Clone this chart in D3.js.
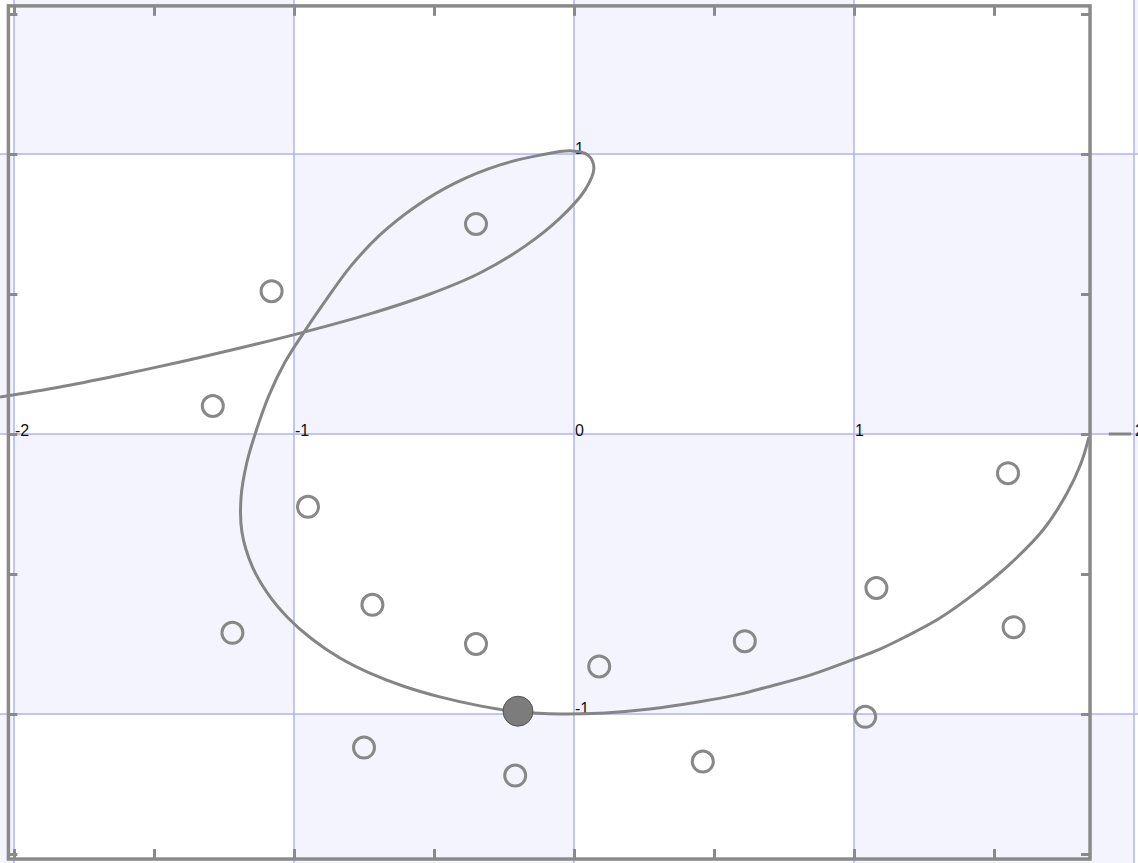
<!DOCTYPE html>
<html>
<head>
<meta charset="utf-8">
<script src="https://cdn.jsdelivr.net/npm/d3@7"></script>
<style>
  body { margin: 0; background: #fff; }
  svg { display: block; }
</style>
</head>
<body>
<div id="chart"></div>
<script>
// traced curve, in graph units (x, y)
const curvePoints = [
  [-2.05, 0.132], [-1.836, 0.168], [-1.621, 0.211], [-1.407, 0.257], [-1.193, 0.307],
  [-0.964, 0.364], [-0.729, 0.429], [-0.514, 0.5], [-0.336, 0.575], [-0.175, 0.671],
  [-0.05, 0.771], [0.039, 0.871], [0.071, 0.95], [0.05, 0.996], [-0.007, 1.011],
  [-0.121, 0.996], [-0.264, 0.961], [-0.425, 0.896], [-0.568, 0.811], [-0.693, 0.711],
  [-0.8, 0.596], [-0.893, 0.468], [-0.964, 0.364], [-1.032, 0.257], [-1.089, 0.139],
  [-1.132, 0.021], [-1.168, -0.1], [-1.189, -0.225], [-1.186, -0.35], [-1.15, -0.471],
  [-1.093, -0.571], [-1.021, -0.657], [-0.936, -0.732], [-0.836, -0.8], [-0.729, -0.854],
  [-0.611, -0.9], [-0.479, -0.939], [-0.336, -0.971], [-0.193, -0.993], [-0.05, -1.0],
  [0.111, -0.996], [0.271, -0.982], [0.443, -0.957], [0.593, -0.929], [0.689, -0.904],
  [0.843, -0.861], [1.0, -0.804], [1.093, -0.768], [1.182, -0.725], [1.307, -0.657],
  [1.429, -0.571], [1.55, -0.471], [1.675, -0.343], [1.761, -0.211], [1.811, -0.104],
  [1.839, -0.011]
]
const curveTail = [[1.91, 0], [1.99, 0]]

const openPoints = [
  [-0.35, 0.75], [-1.08, 0.51], [-1.29, 0.10], [-0.95, -0.26], [-0.72, -0.61],
  [-1.22, -0.71], [-0.35, -0.75], [0.09, -0.83], [0.61, -0.74], [1.08, -0.55],
  [1.55, -0.14], [1.57, -0.69], [1.04, -1.01], [-0.75, -1.12], [-0.21, -1.22],
  [0.46, -1.17]
]
const dragPoint = [[-0.20, -0.99]]

const gridX = [-2, -1, 0, 1, 2]
const gridY = [-1, 0, 1]
const xLabels = [-2, -1, 0, 1, 2]
const yLabels = [1, -1]
const xTicks = [-2, -1.5, -1, -0.5, 0, 0.5, 1, 1.5]
const yTicks = [-1.5, -1, -0.5, 0, 0.5, 1, 1.5]
const frameX = [-2.02, 1.843]
const frameY = [-1.518, 1.529]

const width = 1138
const height = 863

const svg = d3.select("#chart").append("svg")
  .attr("width", width)
  .attr("height", height)
  .attr("viewBox", [0, 0, width, height])

const x = d3.scaleLinear().domain([-2, 2]).range([14, 1134])
const y = d3.scaleLinear().domain([-1, 1]).range([714, 154])

// checkerboard background
const cells = []
d3.range(-3, 3).forEach(i => d3.range(-2, 2).forEach(j => cells.push([i, j])))
svg.append("g").classed("cells", true)
  .selectAll("rect")
  .data(cells.filter(d => Math.abs(d[0] + d[1]) % 2 === 1))
  .join("rect")
  .attr("x", d => x(d[0]))
  .attr("y", d => y(d[1] + 1))
  .attr("width", d => x(d[0] + 1) - x(d[0]))
  .attr("height", d => y(d[1]) - y(d[1] + 1))
  .attr("fill", "#f4f4fe")

const grid = svg.append("g").classed("grid", true)
  .attr("stroke", "#b2b2f8")
  .attr("stroke-width", 1.5)
grid.selectAll("line.v").data(gridX).join("line").classed("v", true)
  .attr("x1", d => x(d)).attr("x2", d => x(d))
  .attr("y1", 0).attr("y2", height)
grid.selectAll("line.h").data(gridY).join("line").classed("h", true)
  .attr("y1", d => y(d)).attr("y2", d => y(d))
  .attr("x1", 0).attr("x2", width)

// axis numbers
const labels = svg.append("g").classed("labels", true)
  .attr("font-family", "Liberation Sans, Arial, sans-serif")
  .attr("font-size", 16)
  .attr("fill", "#111")
labels.selectAll("text.x").data(xLabels).join("text").classed("x", true)
  .attr("x", d => x(d) + 1)
  .attr("y", y(0) + 2)
  .text(d => d)
labels.selectAll("text.y").data(yLabels).join("text").classed("y", true)
  .attr("x", x(0) + 1)
  .attr("y", d => y(d))
  .text(d => d)

const line = d3.line()
  .x(d => x(d[0]))
  .y(d => y(d[1]))
  .curve(d3.curveCatmullRom.alpha(0.5))

svg.append("path").datum(curvePoints)
  .attr("d", line)
  .attr("fill", "none")
  .attr("stroke", "#858585")
  .attr("stroke-width", 3)
svg.append("path").datum(curveTail)
  .attr("d", line)
  .attr("fill", "none")
  .attr("stroke", "#858585")
  .attr("stroke-width", 3)

// frame with inward ticks
const fx0 = x(frameX[0]), fx1 = x(frameX[1])
const fy0 = y(frameY[1]), fy1 = y(frameY[0])
svg.append("rect")
  .attr("x", fx0).attr("y", fy0)
  .attr("width", fx1 - fx0).attr("height", fy1 - fy0)
  .attr("fill", "none")
  .attr("stroke", "#8a8a8a")
  .attr("stroke-width", 3.5)

const tickStyle = g => {
  g.select(".domain").remove()
  g.selectAll(".tick line").attr("stroke", "#8a8a8a").attr("stroke-width", 3)
}
svg.append("g").attr("transform", `translate(0,${fy0})`)
  .call(d3.axisBottom(x).tickValues(xTicks).tickSize(10).tickFormat(""))
  .call(tickStyle)
svg.append("g").attr("transform", `translate(0,${fy1})`)
  .call(d3.axisTop(x).tickValues(xTicks).tickSize(10).tickFormat(""))
  .call(tickStyle)
svg.append("g").attr("transform", `translate(${fx0},0)`)
  .call(d3.axisRight(y).tickValues(yTicks).tickSize(9).tickFormat(""))
  .call(tickStyle)
svg.append("g").attr("transform", `translate(${fx1},0)`)
  .call(d3.axisLeft(y).tickValues(yTicks).tickSize(9).tickFormat(""))
  .call(tickStyle)

svg.append("g").classed("points", true)
  .selectAll("circle")
  .data(openPoints)
  .join("circle")
  .attr("cx", d => x(d[0]))
  .attr("cy", d => y(d[1]))
  .attr("r", 10.5)
  .attr("fill", "none")
  .attr("stroke", "#888")
  .attr("stroke-width", 3)

svg.append("g").classed("drag", true)
  .selectAll("circle")
  .data(dragPoint)
  .join("circle")
  .attr("cx", d => x(d[0]))
  .attr("cy", d => y(d[1]))
  .attr("r", 15)
  .attr("fill", "#7c7c7c")
  .attr("stroke", "#555")
  .attr("stroke-width", 1)
</script>
</body>
</html>
